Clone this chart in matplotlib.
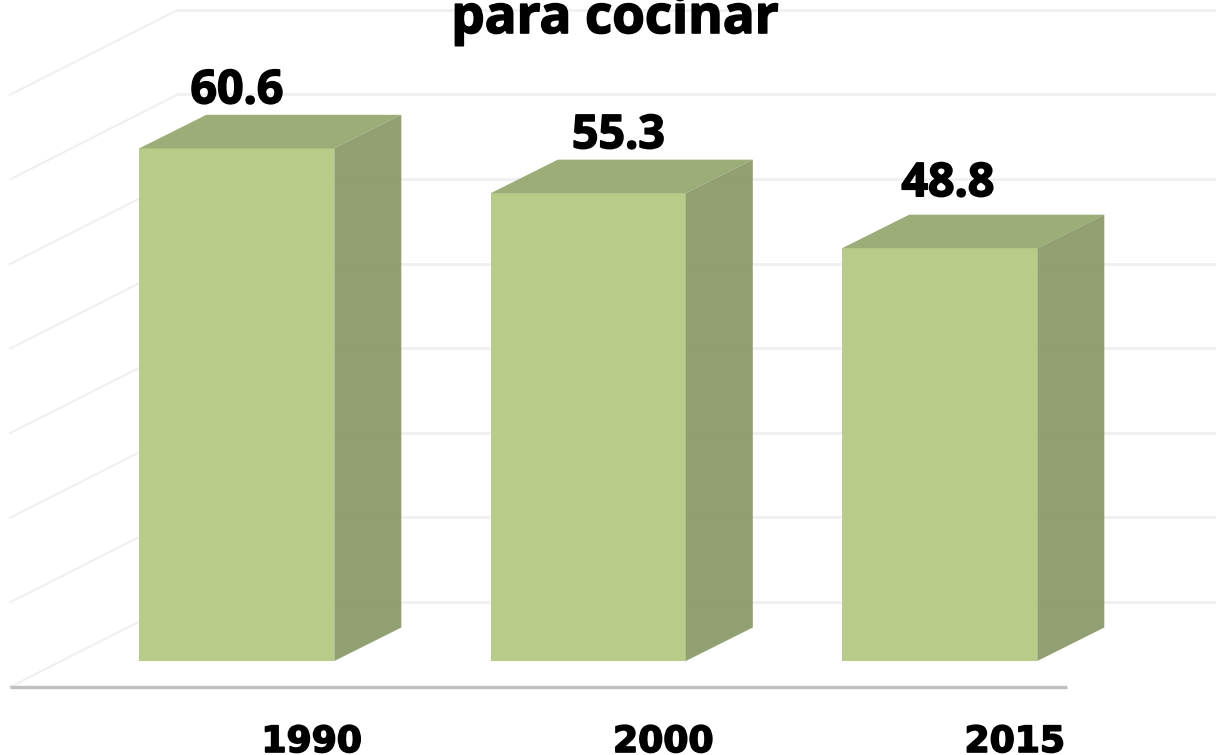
import matplotlib
matplotlib.use('Agg')
import matplotlib.pyplot as plt
import matplotlib.patheffects as pe
from matplotlib.patches import Polygon

years = ['1990', '2000', '2015']
values = [60.6, 55.3, 48.8]
grid_values = [0, 10, 20, 30, 40, 50, 60, 70]

W, H = 1216, 755
PX_X = 351.5  # pixels per category
PX_Y = 8.46  # pixels per value unit
X0, Y0 = 236.8, 661  # where category 0 / value 0 land

dx = 67 / PX_X  # depth of the 3d box
dy = 33.5 / PX_Y
half = 97.5 / PX_X

FRONT = '#b5c982'
TOP = '#97a971'
SIDE = '#8c9a6b'
GRID = '#f0f0f0'

fig = plt.figure(figsize=(W / 100, H / 100), dpi=100)
ax = fig.add_axes([0, 0, 1, 1])
ax.set_xlim(-X0 / PX_X, (W - X0) / PX_X)
ax.set_ylim(-(H - Y0) / PX_Y, Y0 / PX_Y)
ax.axis('off')

# walls, the back one starts at the floor's back edge
wall_l = (10 - X0) / PX_X
wall_m = (178 - X0) / PX_X
wall_r = (1240 - X0) / PX_X
floor_front = (Y0 - 687) / PX_Y
floor_back = (Y0 - 602) / PX_Y

for g in grid_values:
    ax.plot([wall_l, wall_m], [floor_front + g, floor_back + g], color=GRID, lw=1.5, zorder=1)
    ax.plot([wall_m, wall_r], [floor_back + g, floor_back + g], color=GRID, lw=2, zorder=1)

ax.plot([wall_l, (1067 - X0) / PX_X], [floor_front, floor_front], color='#bfbfbf', lw=2.4, zorder=1,
        solid_capstyle='butt')

# label nudges per bar (dx px, dy px above the bar)
label_dx = [0, 30, 8]
label_dy = [45, 45, 52]

heavy = [pe.withStroke(linewidth=1.2, foreground='black')]

for i, v in enumerate(values):
    l, r = i - half, i + half
    front = [(l, 0), (r, 0), (r, v), (l, v)]
    top = [(l, v), (r, v), (r + dx, v + dy), (l + dx, v + dy)]
    side = [(r, 0), (r + dx, dy), (r + dx, v + dy), (r, v)]
    ax.add_patch(Polygon(front, facecolor=FRONT, edgecolor='none', alpha=0.95, zorder=3))
    ax.add_patch(Polygon(top, facecolor=TOP, edgecolor='none', alpha=0.95, zorder=3))
    ax.add_patch(Polygon(side, facecolor=SIDE, edgecolor='none', alpha=0.95, zorder=3))

    ax.text(i + label_dx[i] / PX_X, v + label_dy[i] / PX_Y, f'{v:.1f}', ha='center', va='baseline',
            family='Open Sans', fontweight='bold', fontsize=33.5, color='black', zorder=5, path_effects=heavy)
    ax.text(i + 75 / PX_X, (Y0 - 752) / PX_Y, years[i], ha='center', va='baseline',
            family='DejaVu Sans', fontweight='bold', fontsize=26, color='black', zorder=5, path_effects=heavy)

# title is cut by the top edge in the original, only the last line shows
ax.text((615 - X0) / PX_X, (Y0 - 33) / PX_Y, 'para cocinar', ha='center', va='baseline',
        family='Open Sans', fontweight='bold', fontsize=38, color='black', zorder=5, path_effects=heavy)

fig.savefig('out.png', dpi=100)
